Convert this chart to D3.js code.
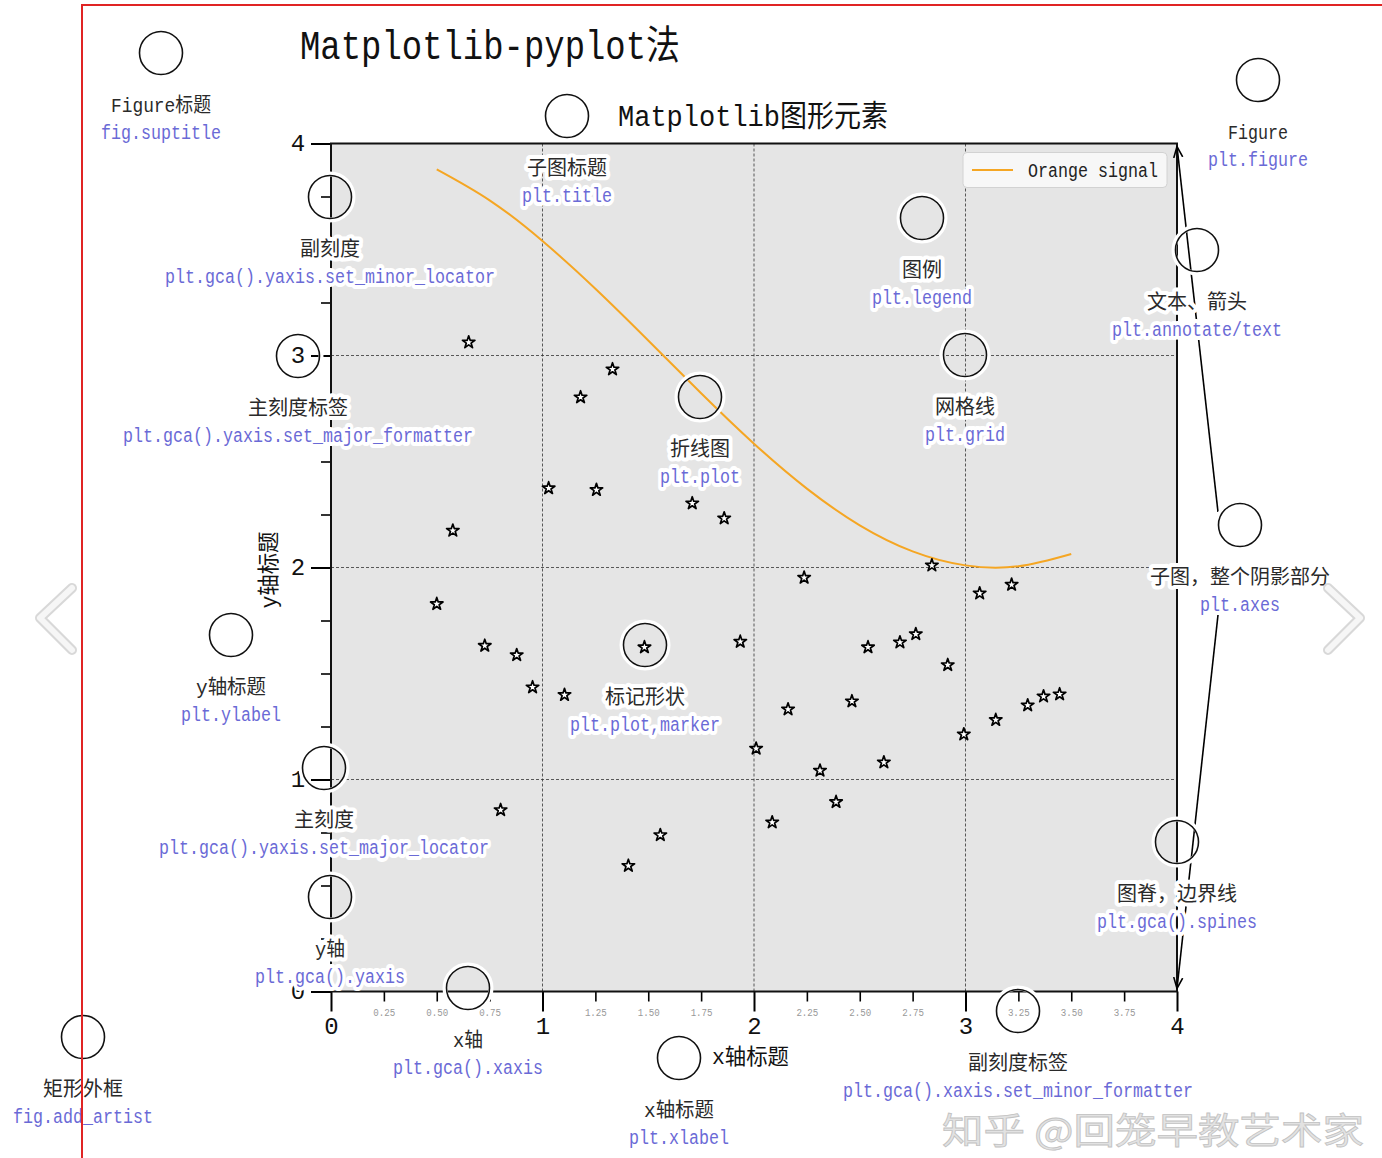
<!DOCTYPE html>
<html><head><meta charset="utf-8">
<script src="https://cdn.jsdelivr.net/npm/d3@7"></script>
<style>body{margin:0;background:#fff;} svg{display:block}</style>
</head><body>
<svg id="c" width="1382" height="1158"></svg>
<script>
// ---------- data ----------
const lineX = [0.50,0.75,1.00,1.25,1.50,1.75,2.00,2.25,2.50,2.75,3.00,3.25,3.50];
const lineY = [3.878,3.732,3.540,3.315,3.071,2.822,2.584,2.372,2.199,2.076,2.010,2.006,2.064];
const scatterX = [0.500,0.576,0.651,0.727,0.802,0.878,0.953,1.029,1.104,1.180,1.255,1.331,1.406,1.482,1.557,1.708,1.859,1.935,2.010,2.086,2.161,2.237,2.312,2.388,2.463,2.539,2.614,2.690,2.765,2.841,2.916,2.992,3.067,3.143,3.218,3.294,3.369,3.445];
const scatterY = [1.828,2.174,3.062,1.631,0.856,1.587,1.435,2.374,1.399,2.803,2.366,2.935,0.593,1.624,0.738,2.303,2.232,1.650,1.146,0.798,1.331,1.952,1.042,0.894,1.369,1.624,1.081,1.647,1.686,2.010,1.540,1.213,1.878,1.281,1.919,1.350,1.392,1.402];
const majorTicks = [0,1,2,3,4];
const minorTicks = [0.25,0.5,0.75,1.25,1.5,1.75,2.25,2.5,2.75,3.25,3.5,3.75];
const gridTicks = [1,2,3];
const legendLabels = ["Orange signal"];
const suptitle = "Matplotlib-pyplot法";
const axTitle = "Matplotlib图形元素";
const xLabel = "x轴标题";
const yLabel = "y轴标题";
const annoNames = ["Figure标题","子图标题","Figure","副刻度","主刻度标签","折线图","图例","网格线","文本、箭头","子图，整个阴影部分","y轴标题","标记形状","主刻度","y轴","x轴","图脊，边界线","副刻度标签","x轴标题","矩形外框"];
const annoCodes = ["fig.suptitle","plt.title","plt.figure","plt.gca().yaxis.set_minor_locator","plt.gca().yaxis.set_major_formatter","plt.plot","plt.legend","plt.grid","plt.annotate/text","plt.axes","plt.ylabel","plt.plot,marker","plt.gca().yaxis.set_major_locator","plt.gca().yaxis","plt.gca().xaxis","plt.gca().spines","plt.gca().xaxis.set_minor_formatter","plt.xlabel","fig.add_artist"];
const watermark = "知乎 @回笼早教艺术家";

// ---------- layout ----------
const annoPos = [[161,53],[567,116],[1258,80],[330,197],[298,356],[700,397],[922,218],[965,355],[1197,250],[1240,525],[231,635],[645,645],[324,768],[330,897],[468,988],[1177,842],[1018,1011],[679,1058],[83,1037]];
const FONT = "'Liberation Mono','Noto Sans CJK SC',monospace";
const BLUE = "#6a6ad6";
const svg = d3.select("#c");
const x = d3.scaleLinear().domain([0,4]).range([331,1177]);
const y = d3.scaleLinear().domain([0,4]).range([991.5,143.5]);

function units(s){let u=0;for(const ch of s){u+= ch.codePointAt(0)>0x2E7F?1:0.5;}return u;}
function label(g,px,py,s,fs,fill,opts={}){
  const t=g.append("text").attr("x",px).attr("y",py).text(s)
    .attr("font-family",opts.family||FONT).attr("font-size",fs).attr("fill",fill)
    .attr("text-anchor",opts.anchor||"middle").attr("dominant-baseline","central")
    .attr("textLength",opts.len||units(s)*fs).attr("lengthAdjust","spacingAndGlyphs");
  if(opts.rotate) t.attr("transform",`rotate(${opts.rotate},${px},${py})`);
  if(opts.halo){t.attr("stroke","#fff").attr("stroke-width",opts.halo).attr("stroke-linejoin","round").attr("paint-order","stroke");}
  return t;
}

// plot background
svg.append("rect").attr("x",x(0)).attr("y",y(4)).attr("width",x(4)-x(0)).attr("height",y(0)-y(4)).attr("fill","#e5e5e5");

// grid
const grid = svg.append("g").attr("stroke","#333").attr("stroke-width",0.8).attr("stroke-dasharray","3,2");
grid.selectAll(".gv").data(gridTicks).join("line").attr("x1",d=>x(d)).attr("x2",d=>x(d)).attr("y1",y(0)).attr("y2",y(4));
grid.selectAll(".gh").data(gridTicks).join("line").attr("y1",d=>y(d)).attr("y2",d=>y(d)).attr("x1",x(0)).attr("x2",x(4));

// orange line
const lineData = lineX.map((v,i)=>[v,lineY[i]]);
svg.append("path").datum(lineData).attr("fill","none").attr("stroke","#f5a623").attr("stroke-width",2)
  .attr("d",d3.line().x(d=>x(d[0])).y(d=>y(d[1])).curve(d3.curveNatural));

// stars
const star = d3.symbol().type(d3.symbolStar).size(48);
svg.append("g").selectAll("path").data(scatterX.map((v,i)=>[v,scatterY[i]])).join("path")
  .attr("d",star).attr("transform",d=>`translate(${x(d[0])},${y(d[1])})`)
  .attr("fill","#fff").attr("stroke","#000").attr("stroke-width",1.7).attr("stroke-linejoin","round");

// axes
function styleAxis(g,w){g.select(".domain").remove();g.selectAll(".tick line").attr("stroke","#000").attr("stroke-width",w);}
const gxMin = svg.append("g").attr("transform",`translate(0,${y(0)})`)
  .call(d3.axisBottom(x).tickValues(minorTicks).tickSize(10).tickFormat(d3.format(".2f")));
styleAxis(gxMin,1.6);
gxMin.selectAll("text").attr("y",21).attr("dy",null).attr("dominant-baseline","central")
  .attr("font-family",FONT).attr("font-size",11).attr("fill","#999").attr("textLength",22).attr("lengthAdjust","spacingAndGlyphs");
const gxMaj = svg.append("g").attr("transform",`translate(0,${y(0)})`)
  .call(d3.axisBottom(x).tickValues(majorTicks).tickSize(20).tickFormat(d3.format("d")));
styleAxis(gxMaj,2);
gxMaj.selectAll("text").attr("y",36).attr("dy",null).attr("dominant-baseline","central")
  .attr("font-family",FONT).attr("font-size",24).attr("fill","#111");
const gyMin = svg.append("g").attr("transform",`translate(${x(0)},0)`)
  .call(d3.axisLeft(y).tickValues(minorTicks).tickSize(10).tickFormat(""));
styleAxis(gyMin,1.6);
const gyMaj = svg.append("g").attr("transform",`translate(${x(0)},0)`)
  .call(d3.axisLeft(y).tickValues(majorTicks).tickSize(20).tickFormat(d3.format("d")));
styleAxis(gyMaj,2);
gyMaj.selectAll("text").attr("x",-33).attr("dy",null).attr("dominant-baseline","central").attr("text-anchor","middle")
  .attr("font-family",FONT).attr("font-size",24).attr("fill","#111");

// spines
svg.append("rect").attr("x",x(0)).attr("y",y(4)).attr("width",x(4)-x(0)).attr("height",y(0)-y(4))
  .attr("fill","none").attr("stroke","#111").attr("stroke-width",2);

// legend
const lg = svg.append("g").attr("transform",`translate(${x(4)-214},${y(4)+9})`);
lg.append("rect").attr("width",204).attr("height",35).attr("rx",4).attr("fill","#f7f7f7").attr("stroke","#d2d2d2");
lg.append("line").attr("x1",9).attr("x2",50).attr("y1",17.5).attr("y2",17.5).attr("stroke","#f5a623").attr("stroke-width",2);
legendLabels.forEach((s,i)=>label(lg,65,18.5+i*30,s,20,"#222",{anchor:"start"}));

// titles
label(svg,300,48,suptitle,40,"#111",{anchor:"start"});
label(svg,618,118,axTitle,30,"#111",{anchor:"start"});
label(svg,712,1058,xLabel,22,"#111",{anchor:"start"});
label(svg,270,570,yLabel,22,"#111",{rotate:-90});

// arrows
const defs = svg.append("defs");
defs.append("marker").attr("id","ah").attr("viewBox","0 -6 12 12").attr("refX",11).attr("refY",0)
  .attr("markerWidth",12).attr("markerHeight",12).attr("markerUnits","userSpaceOnUse").attr("orient","auto")
  .append("path").attr("d","M0,-4.5L11,0L0,4.5").attr("fill","none").attr("stroke","#000").attr("stroke-width",1.6);
const arrows = [[1218,512,x(4),y(4)+3],[1218,615,x(4),y(0)-3]];
svg.append("g").selectAll("line").data(arrows).join("line")
  .attr("x1",d=>d[0]).attr("y1",d=>d[1]).attr("x2",d=>d[2]).attr("y2",d=>d[3])
  .attr("stroke","#000").attr("stroke-width",1.6).attr("marker-end","url(#ah)");

// annotation circles
const cg = svg.append("g");
cg.selectAll(".halo").data(annoPos).join("circle").attr("cx",d=>d[0]).attr("cy",d=>d[1]).attr("r",23)
  .attr("fill","none").attr("stroke","#fff").attr("stroke-width",5);
cg.selectAll(".ring").data(annoPos).join("circle").attr("cx",d=>d[0]).attr("cy",d=>d[1]).attr("r",21.5)
  .attr("fill","none").attr("stroke","#111").attr("stroke-width",1.6);

// annotation labels
const tg = svg.append("g");
annoPos.forEach((p,i)=>{
  label(tg,p[0],p[1]+53,annoNames[i],20,"#2a2a2a",{halo:8});
  label(tg,p[0],p[1]+80,annoCodes[i],20,BLUE,{halo:8});
});

// red frame (fig.add_artist)
svg.append("rect").attr("x",82).attr("y",5).attr("width",1400).attr("height",1300)
  .attr("fill","none").attr("stroke","#e02424").attr("stroke-width",2);

// watermark
svg.append("text").attr("x",942).attr("y",1128).attr("dominant-baseline","central")
  .attr("font-family","'Noto Sans CJK SC',sans-serif").attr("font-size",36)
  .attr("textLength",422).attr("lengthAdjust","spacingAndGlyphs")
  .attr("fill","#e2e2e2").attr("stroke","#c2c2c2").attr("stroke-width",0.8).text(watermark);

// carousel chevrons
const chev = svg.append("g").attr("fill","none").attr("stroke-linecap","round").attr("stroke-linejoin","round");
[[72,588,40,618,72,650],[1328,588,1360,618,1328,650]].forEach(c=>{
  const d=`M${c[0]},${c[1]}L${c[2]},${c[3]}L${c[4]},${c[5]}`;
  chev.append("path").attr("d",d).attr("stroke","#d8d8d8").attr("stroke-width",10);
  chev.append("path").attr("d",d).attr("stroke","#f6f6f6").attr("stroke-width",6);
});
</script>
</body></html>
